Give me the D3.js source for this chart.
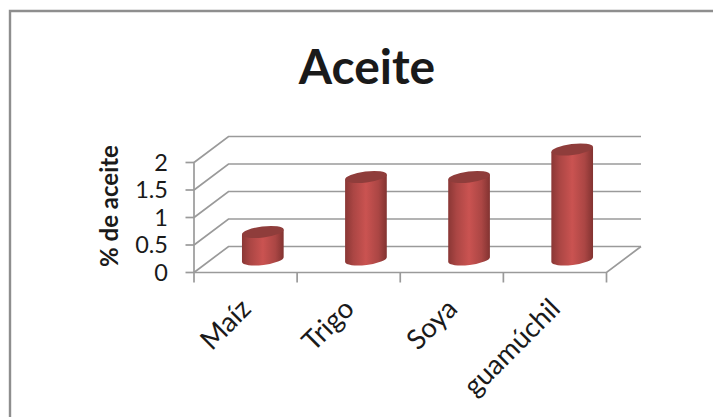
<!DOCTYPE html>
<html lang="es">
<head>
<meta charset="utf-8">
<script src="https://cdn.jsdelivr.net/npm/d3@7"></script>
<style>
  html, body { margin: 0; padding: 0; background: #fff; }
  svg { display: block; }
  text { font-family: Lato, "Open Sans", sans-serif; fill: #1a1a1a; }
</style>
</head>
<body>
<svg id="chart" width="713" height="417"></svg>
<script>
const categories = ["Maíz", "Trigo", "Soya", "guamúchil"];
const aceite = [0.5, 1.5, 1.5, 2];
const yTicks = [0, 0.5, 1, 1.5, 2];
const chartTitle = "Aceite";
const yTitle = "% de aceite";

const svg = d3.select("#chart");
const axisColor = "#9a9a9a";

// Front edge of the 3D floor, and how far the back wall is pushed away from it.
const x = d3.scaleBand().domain(categories).range([194, 606.5]);
const y = d3.scaleLinear().domain([0, 2]).range([272.5, 162.5]);
const depth = { dx: 34.5, dy: -26 };

// Horizontal shading that makes the bars read as cylinders.
const grad = svg.append("defs").append("linearGradient")
  .attr("id", "cyl").attr("x1", 0).attr("x2", 1).attr("y1", 0).attr("y2", 0);
[[0, "#8a3735"], [0.2, "#ab4644"], [0.5, "#ca5351"], [0.8, "#ab4644"], [1, "#823331"]]
  .forEach(([o, c]) => grad.append("stop").attr("offset", o).attr("stop-color", c));

// Outer chart frame, open on the right and at the bottom.
svg.append("path")
  .attr("d", "M10,417V11H713")
  .attr("fill", "none").attr("stroke", "#8e8e8e").attr("stroke-width", 2.4);

// Gridlines: a diagonal on the side wall, then a straight run along the back wall.
const grid = svg.append("g").attr("fill", "none")
  .attr("stroke", axisColor).attr("stroke-width", 1.7);
grid.selectAll("path").data(yTicks).join("path")
  .attr("d", d => {
    const back = y(d) + depth.dy;
    return `M${x.range()[0]},${y(d)}L${x.range()[0] + depth.dx},${back}H${x.range()[1] + depth.dx}`;
  });
// Floor: right-hand diagonal and front edge.
grid.append("path")
  .attr("d", `M${x.range()[0]},${y(0)}H${x.range()[1]}L${x.range()[1] + depth.dx},${y(0) + depth.dy}`);

// Value axis with its ticks sticking out to the left.
const axis = svg.append("g").attr("stroke", axisColor).attr("stroke-width", 1.7);
axis.append("line").attr("x1", 194).attr("x2", 194).attr("y1", y(2)).attr("y2", y(0));
axis.selectAll("line.tick").data(yTicks).join("line").attr("class", "tick")
  .attr("x1", 185.5).attr("x2", 194).attr("y1", d => y(d)).attr("y2", d => y(d));

// Category axis ticks at the band boundaries.
axis.selectAll("line.xtick").data(d3.range(categories.length + 1)).join("line").attr("class", "xtick")
  .attr("y1", y(0)).attr("y2", y(0) + 10)
  .attr("x1", i => x.range()[0] + i * x.step())
  .attr("x2", i => x.range()[0] + i * x.step());

// Cylinders stand halfway between the front edge and the back wall.
const rx = 21, ry = 5.5, tilt = -7;
const floorY = y(0) + depth.dy / 2;
const cx = c => x(c) + x.bandwidth() / 2 + depth.dx / 2;
const barTop = v => floorY - (y(0) - y(v));

const bars = svg.append("g").selectAll("g").data(categories.map((c, i) => ({ c, v: aceite[i] }))).join("g");
const rad = tilt * Math.PI / 180;
const ex = rx * Math.cos(rad), ey = rx * Math.sin(rad);
bars.append("path")
  .attr("fill", "url(#cyl)")
  .attr("d", d => {
    const c = cx(d.c), t = barTop(d.v);
    return `M${c - ex},${t - ey}L${c + ex},${t + ey}V${floorY + ey}` +
      `A${rx},${ry} ${tilt} 0 1 ${c - ex},${floorY - ey}Z`;
  });
bars.append("ellipse")
  .attr("fill", "#8f3d3b")
  .attr("rx", rx).attr("ry", ry)
  .attr("transform", d => `translate(${cx(d.c)},${barTop(d.v)}) rotate(${tilt})`);

// Value labels.
svg.append("g").selectAll("text").data(yTicks).join("text")
  .attr("x", 168).attr("y", d => y(d))
  .attr("dy", "0.36em").attr("text-anchor", "end")
  .attr("font-size", 23.5)
  .text(d => d);

// Category labels, rotated and ending near their band centre.
svg.append("g").selectAll("text").data(categories).join("text")
  .attr("text-anchor", "end").attr("font-size", 27.5)
  .attr("transform", d => `translate(${x(d) + x.bandwidth() / 2 + 7},${y(0) + 38}) rotate(-45)`)
  .text(d => d);

// Titles.
svg.append("text").attr("x", 367).attr("y", 84)
  .attr("text-anchor", "middle").attr("font-size", 48).attr("font-weight", 700)
  .text(chartTitle);
svg.append("text")
  .attr("transform", "translate(118,206) rotate(-90)")
  .attr("text-anchor", "middle").attr("font-size", 24).attr("font-weight", 700)
  .text(yTitle);
</script>
</body>
</html>
